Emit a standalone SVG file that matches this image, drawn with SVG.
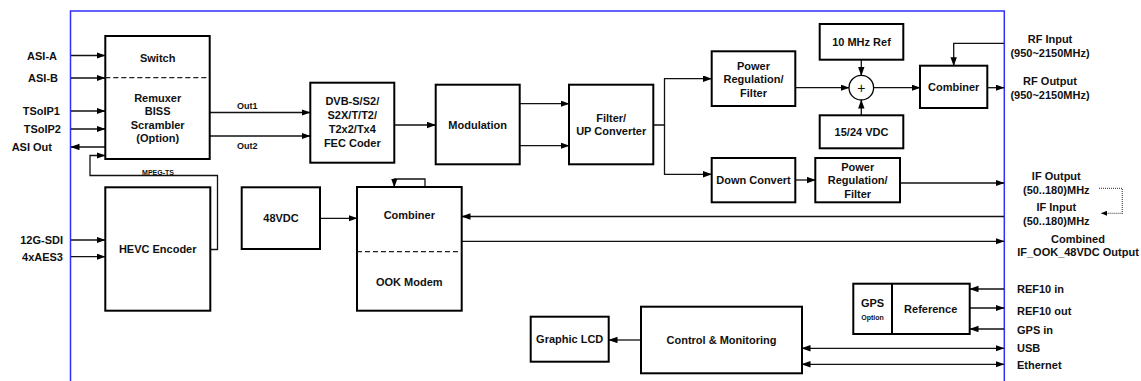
<svg xmlns="http://www.w3.org/2000/svg" width="1141" height="381" viewBox="0 0 1141 381">
<style>
text{font-family:"Liberation Sans",Arial,sans-serif;font-weight:bold;font-size:11px;fill:#111;text-anchor:middle}
.l{text-anchor:end}
.r{text-anchor:start}
.s{font-size:9px}
.xs{font-size:7px}
.box{fill:#fff;stroke:#000;stroke-width:2}
.dash{stroke:#222;stroke-width:1.2;stroke-dasharray:5,3;fill:none}
.c{fill:none;stroke:#111;stroke-width:1.3}
.b{fill:none;stroke:#2f2fff;stroke-width:1.5}
</style>
<defs>
<marker id="a" markerUnits="userSpaceOnUse" markerWidth="9" markerHeight="7" refX="8.5" refY="3.2" orient="auto-start-reverse"><path d="M0,0 L9,3.2 L0,6.4 z" fill="#000"/></marker>
<marker id="sa" markerUnits="userSpaceOnUse" markerWidth="6" markerHeight="5" refX="5.5" refY="2.5" orient="auto"><path d="M0,0 L6,2.5 L0,5 z" fill="#000"/></marker>
</defs>
<rect width="1141" height="381" fill="#fff"/>
<g id="frame">
<path class="b" d="M70.5,381 V11 H1004.3 V381"/>
</g>
<g id="connectors">
<path class="c" marker-end="url(#a)" d="M71,55.5 H105"/>
<path class="c" marker-end="url(#a)" d="M71,78 H105"/>
<path class="c" marker-end="url(#a)" d="M71,111 H105"/>
<path class="c" marker-end="url(#a)" d="M71,129 H105"/>
<path class="c" marker-end="url(#a)" d="M105,147 H71"/>
<path class="c" marker-end="url(#a)" d="M210,249.5 H217.5 V175.5 H90 V155.5 H105"/>
<path class="c" marker-end="url(#a)" d="M210,112.5 H310"/>
<path class="c" marker-end="url(#a)" d="M210,136 H310"/>
<path class="c" marker-end="url(#a)" d="M394.5,125 H435.5"/>
<path class="c" marker-end="url(#a)" d="M520,103.7 H569"/>
<path class="c" marker-end="url(#a)" d="M520,145.7 H569"/>
<path class="c" marker-end="url(#a)" d="M653.5,125 H664.5 V78.7 H711.5"/>
<path class="c" marker-end="url(#a)" d="M664.5,125 V174.3 H711.5"/>
<path class="c" marker-end="url(#a)" d="M795.5,87.7 H849"/>
<path class="c" marker-end="url(#a)" d="M861.3,60 V75.4"/>
<path class="c" marker-end="url(#a)" d="M861.3,115.3 V100"/>
<path class="c" marker-end="url(#a)" d="M873.6,87.7 H920"/>
<path class="c" marker-end="url(#a)" d="M987.5,87.7 H1004"/>
<path class="c" marker-end="url(#a)" d="M1004,43.3 H953.7 V65.7"/>
<path class="c" marker-end="url(#a)" d="M795.5,180 H815.3"/>
<path class="c" marker-end="url(#a)" d="M900,183 H1004"/>
<path fill="none" stroke="#555" stroke-width="1.3" stroke-dasharray="1,1" marker-end="url(#sa)" d="M1099,188.3 H1122.3 V213.3 H1101.5"/>
<path class="c" marker-end="url(#a)" d="M1004,216.5 H462"/>
<path class="c" marker-end="url(#a)" d="M462,241.3 H1004"/>
<path class="c" marker-end="url(#a)" d="M320,218.3 H357"/>
<path class="c" marker-end="url(#a)" d="M425,187 V179 H394.3 V187"/>
<path class="c" marker-end="url(#a)" d="M71,240 H105"/>
<path class="c" marker-end="url(#a)" d="M71,256.7 H105"/>
<path class="c" marker-end="url(#a)" d="M641,340 H609"/>
<path class="c" marker-end="url(#a)" d="M1004,289 H970"/>
<path class="c" marker-end="url(#a)" d="M970,308 H1004"/>
<path class="c" marker-end="url(#a)" d="M1004,329 H970"/>
<path class="c" marker-start="url(#a)" marker-end="url(#a)" d="M802,348.3 H1004"/>
<path class="c" marker-start="url(#a)" marker-end="url(#a)" d="M802,364.3 H1004"/>
</g>
<g id="io-labels">
<text class="l" x="57" y="59.5">ASI-A</text>
<text class="l" x="58" y="82">ASI-B</text>
<text class="l" x="60" y="115">TSoIP1</text>
<text class="l" x="61" y="133">TSoIP2</text>
<text class="l" x="52" y="151">ASI Out</text>
<text class="l" x="63" y="244">12G-SDI</text>
<text class="l" x="63" y="261">4xAES3</text>
<text class="s r" x="237" y="109">Out1</text>
<text class="s r" x="237" y="149">Out2</text>
<text class="xs" x="158" y="174.8">MPEG-TS</text>
<text x="1050" y="43">RF Input</text>
<text x="1050" y="56.7">(950~2150MHz)</text>
<text x="1050" y="85">RF Output</text>
<text x="1050" y="98.5">(950~2150MHz)</text>
<text x="1056.3" y="179.7">IF Output</text>
<text x="1056.3" y="194.3">(50..180)MHz</text>
<text x="1056.3" y="210.7">IF Input</text>
<text x="1056.3" y="224.7">(50..180)MHz</text>
<text x="1078" y="243.3">Combined</text>
<text x="1078" y="256">IF_OOK_48VDC Output</text>
<text class="r" x="1017" y="293">REF10 in</text>
<text class="r" x="1017" y="315">REF10 out</text>
<text class="r" x="1017" y="334">GPS in</text>
<text class="r" x="1017" y="352">USB</text>
<text class="r" x="1017" y="368.5">Ethernet</text>
</g>
<g id="switch">
<rect class="box" x="105.3" y="36" width="104.4" height="123"/>
<path class="dash" d="M105.3,77.7 H209.7"/>
<text x="157.7" y="62">Switch</text>
<text x="157.7" y="102">Remuxer</text>
<text x="157.7" y="115">BISS</text>
<text x="157.7" y="129">Scrambler</text>
<text x="157.7" y="142">(Option)</text>
</g>
<g id="fec">
<rect class="box" x="310.3" y="82.7" width="84" height="80"/>
<text x="352.3" y="105">DVB-S/S2/</text>
<text x="352.3" y="119.3">S2X/T/T2/</text>
<text x="352.3" y="133.3">T2x2/Tx4</text>
<text x="352.3" y="147.3">FEC Coder</text>
</g>
<g id="modulation">
<rect class="box" x="435.7" y="84.7" width="84" height="79.6"/>
<text x="477.7" y="129">Modulation</text>
</g>
<g id="upconverter">
<rect class="box" x="569" y="84.7" width="84.3" height="79.6"/>
<text x="611.2" y="122">Filter/</text>
<text x="611.2" y="135">UP Converter</text>
</g>
<g id="powerreg1">
<rect class="box" x="711.7" y="51.3" width="83.6" height="54.7"/>
<text x="753.5" y="69.5">Power</text>
<text x="753.5" y="83">Regulation/</text>
<text x="753.5" y="96.5">Filter</text>
</g>
<g id="ref10mhz">
<rect class="box" x="819.7" y="24" width="83.6" height="35.7"/>
<text x="861.5" y="45.7">10 MHz Ref</text>
</g>
<g id="adder">
<circle cx="861.3" cy="87.7" r="12.3" fill="#fff" stroke="#000" stroke-width="1.3"/>
<text x="861.3" y="92.6" style="font-weight:normal;font-size:14px">+</text>
</g>
<g id="vdc1524">
<rect class="box" x="819.7" y="115.3" width="83.6" height="33"/>
<text x="861.5" y="136">15/24 VDC</text>
</g>
<g id="rfcombiner">
<rect class="box" x="920" y="65.7" width="67.3" height="42.3"/>
<text x="953.7" y="91">Combiner</text>
</g>
<g id="downconvert">
<rect class="box" x="711.7" y="158" width="83.6" height="44.3"/>
<text x="753.5" y="184">Down Convert</text>
</g>
<g id="powerreg2">
<rect class="box" x="815.3" y="158" width="84.7" height="44.3"/>
<text x="857.7" y="170.7">Power</text>
<text x="857.7" y="184.2">Regulation/</text>
<text x="857.7" y="197.7">Filter</text>
</g>
<g id="hevc">
<rect class="box" x="105.3" y="187.3" width="105" height="123.4"/>
<text x="157.7" y="253.3">HEVC Encoder</text>
</g>
<g id="vdc48">
<rect class="box" x="241.7" y="187.3" width="78.3" height="61.7"/>
<text x="281" y="222">48VDC</text>
</g>
<g id="combiner-ook">
<rect class="box" x="357" y="187" width="104.7" height="123.7"/>
<path class="dash" d="M357,251.7 H461.7"/>
<text x="409.3" y="219">Combiner</text>
<text x="409.3" y="285.7">OOK Modem</text>
</g>
<g id="lcd">
<rect class="box" x="530.7" y="316.7" width="78" height="45"/>
<text x="569.7" y="343">Graphic LCD</text>
</g>
<g id="control">
<rect class="box" x="641" y="306.7" width="161" height="66.6"/>
<text x="721.5" y="344">Control &amp; Monitoring</text>
</g>
<g id="reference">
<rect class="box" x="853.3" y="283.7" width="116.4" height="50.3"/>
<path d="M892,283.7 V334" stroke="#000" stroke-width="2"/>
<text x="872.5" y="306.7">GPS</text>
<text class="xs" x="872.5" y="319.5">Option</text>
<text x="930.7" y="313.3">Reference</text>
</g>
</svg>
